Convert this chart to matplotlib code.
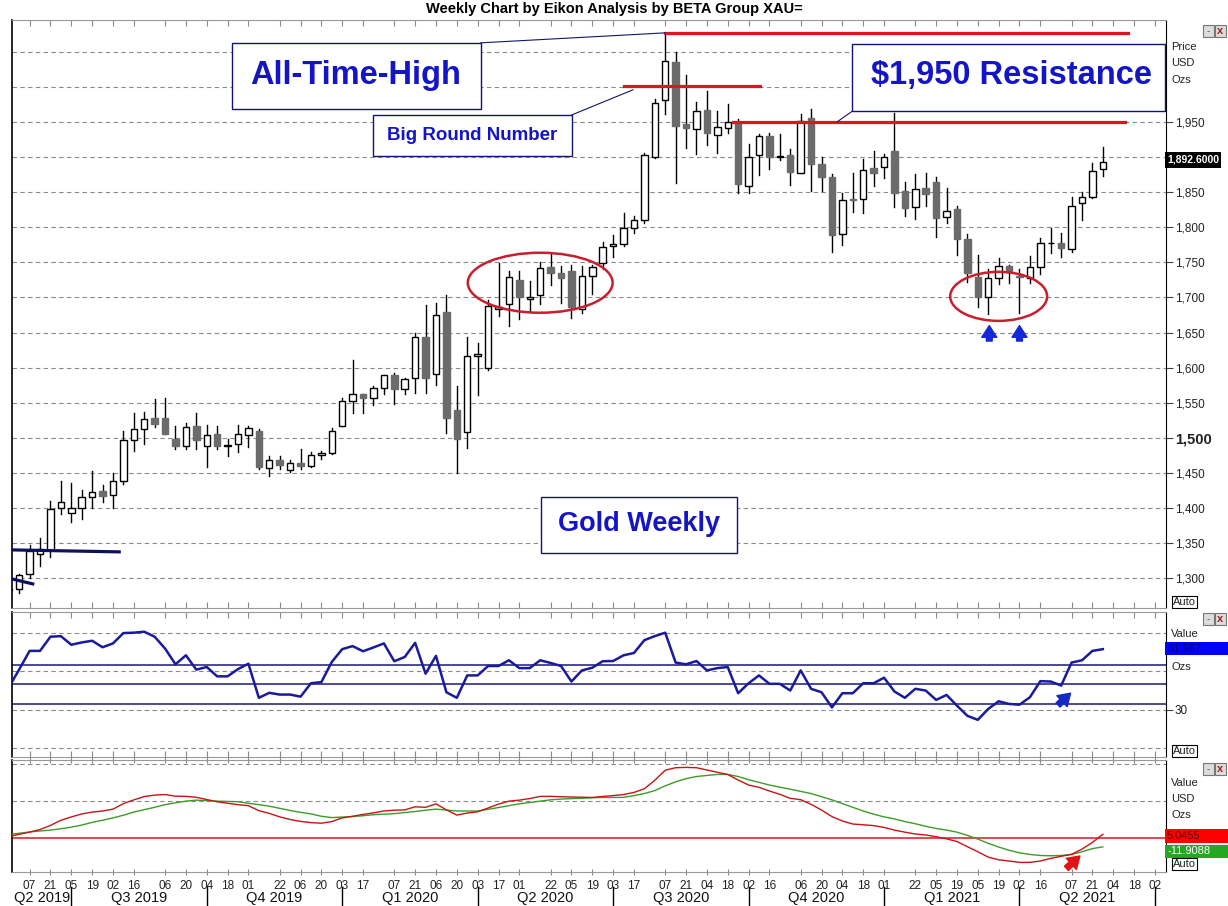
import matplotlib
matplotlib.use("Agg")
import matplotlib.pyplot as plt
from matplotlib.patches import Rectangle, Ellipse
from matplotlib.transforms import blended_transform_factory

plt.rcParams['font.family'] = ['Liberation Sans', 'DejaVu Sans']

W, H = 1228, 906

# weekly bars, week 0 = 07 Jun 2019
weeks = list(range(-2, 104))

opens = [1283, 1285, 1306, 1335, 1341, 1400, 1393, 1400, 1416, 1424,
         1419, 1439, 1497, 1513, 1528, 1529, 1499, 1488, 1517, 1488,
         1505, 1489, 1491, 1504, 1510, 1457, 1468, 1455, 1464, 1460,
         1476, 1478, 1517, 1552, 1562, 1557, 1571, 1589, 1570, 1585,
         1644, 1591, 1680, 1540, 1509, 1617, 1600, 1683, 1691, 1725,
         1698, 1703, 1743, 1735, 1738, 1684, 1731, 1749, 1773, 1776,
         1799, 1810, 1900, 1981, 2035, 1947, 1940, 1967, 1931, 1941,
         1948, 1859, 1903, 1930, 1900, 1903, 1877, 1955, 1890, 1872,
         1790, 1840, 1840, 1884, 1886, 1908, 1851, 1829, 1856, 1865,
         1815, 1826, 1783, 1729, 1701, 1728, 1745, 1731, 1728, 1744,
         1777, 1778, 1769, 1834, 1843, 1883]
highs = [1288, 1306, 1348, 1358, 1410, 1439, 1436, 1426, 1453, 1433,
         1450, 1510, 1535, 1537, 1555, 1557, 1517, 1522, 1535, 1519,
         1517, 1498, 1518, 1517, 1513, 1475, 1475, 1468, 1485, 1480,
         1481, 1514, 1557, 1611, 1563, 1574, 1590, 1592, 1585, 1649,
         1689, 1692, 1704, 1574, 1644, 1635, 1697, 1749, 1738, 1738,
         1724, 1751, 1764, 1745, 1746, 1745, 1746, 1779, 1789, 1820,
         1816, 1906, 1983, 2077, 2050, 2017, 1978, 1994, 1966, 1975,
         1954, 1919, 1933, 1934, 1933, 1912, 1961, 1968, 1900, 1876,
         1849, 1877, 1897, 1909, 1904, 1963, 1865, 1876, 1877, 1872,
         1856, 1830, 1790, 1761, 1740, 1756, 1746, 1740, 1759, 1785,
         1799, 1792, 1843, 1850, 1892, 1914]
lows = [1266, 1280, 1300, 1318, 1331, 1392, 1380, 1385, 1400, 1409,
        1400, 1434, 1481, 1492, 1516, 1506, 1485, 1484, 1485, 1459,
        1484, 1475, 1480, 1487, 1456, 1446, 1456, 1452, 1456, 1458,
        1470, 1477, 1517, 1535, 1536, 1547, 1563, 1548, 1563, 1564,
        1564, 1576, 1507, 1450, 1486, 1561, 1597, 1674, 1660, 1669,
        1681, 1691, 1718, 1692, 1671, 1678, 1705, 1741, 1757, 1773,
        1792, 1806, 1898, 1961, 1863, 1913, 1904, 1917, 1906, 1934,
        1849, 1849, 1875, 1883, 1896, 1860, 1877, 1852, 1852, 1765,
        1775, 1822, 1820, 1858, 1870, 1829, 1816, 1812, 1830, 1786,
        1806, 1761, 1722, 1687, 1677, 1719, 1721, 1678, 1721, 1734,
        1763, 1758, 1765, 1810, 1842, 1873]
closes = [1285, 1305, 1339, 1342, 1399, 1409, 1400, 1416, 1423, 1417,
          1439, 1497, 1513, 1527, 1520, 1506, 1488, 1516, 1497, 1504,
          1488, 1490, 1505, 1514, 1459, 1468, 1462, 1464, 1460, 1476,
          1478, 1510, 1552, 1562, 1557, 1571, 1589, 1570, 1584, 1644,
          1585, 1675, 1528, 1499, 1617, 1620, 1688, 1686, 1729, 1701,
          1701, 1742, 1735, 1728, 1686, 1731, 1743, 1772, 1776, 1799,
          1810, 1903, 1977, 2037, 1944, 1941, 1966, 1934, 1943, 1950,
          1862, 1900, 1930, 1900, 1902, 1879, 1951, 1890, 1872, 1789,
          1839, 1839, 1881, 1877, 1900, 1849, 1828, 1855, 1847, 1813,
          1823, 1783, 1735, 1701, 1728, 1745, 1736, 1729, 1744, 1778,
          1778, 1771, 1830, 1843, 1880, 1892.6]

rsi = [41.6, 51.0, 60.7, 60.7, 68.1, 68.4, 63.9, 65.1, 66.0, 62.6,
       64.6, 70.0, 70.2, 70.7, 68.1, 61.9, 53.7, 58.4, 50.9, 52.3,
       47.4, 47.4, 51.2, 54.0, 36.2, 38.8, 37.9, 37.9, 36.8, 43.8,
       44.4, 54.9, 61.6, 63.2, 60.5, 62.5, 64.6, 55.3, 57.5, 64.9,
       48.8, 58.1, 39.1, 36.2, 47.9, 47.9, 52.8, 52.8, 55.8, 51.7,
       51.7, 55.8, 54.4, 52.8, 44.7, 50.5, 51.9, 55.3, 55.4, 58.4,
       59.6, 66.3, 68.4, 70.2, 54.6, 53.7, 55.4, 50.5, 51.7, 52.3,
       38.6, 43.8, 47.9, 43.5, 43.5, 40.0, 50.5, 40.9, 39.1, 31.2,
       38.6, 38.6, 43.8, 43.8, 46.7, 39.5, 36.2, 40.9, 40.0, 35.1,
       37.7, 32.1, 26.8, 24.7, 30.4, 34.4, 33.0, 32.6, 36.5, 44.9,
       44.7, 42.6, 54.6, 55.8, 60.7, 61.6]

macd = [2.0, 5.0, 8.0, 11.5, 17.0, 24.0, 28.5, 32.5, 35.0, 36.5,
        39.0, 46.5, 51.5, 56.0, 58.0, 58.7, 56.5, 56.3, 55.0, 52.0,
        49.0, 47.0, 45.0, 43.7, 37.0, 33.3, 28.6, 25.0, 22.5, 20.8,
        20.0, 22.2, 27.2, 29.4, 31.9, 34.0, 36.5, 37.6, 38.0, 42.2,
        41.5, 46.2, 38.0, 31.0, 33.7, 35.4, 40.5, 45.8, 49.8, 51.2,
        53.3, 56.2, 56.3, 55.8, 55.4, 55.1, 54.8, 56.2, 57.3, 58.7,
        61.6, 66.6, 78.0, 91.6, 95.0, 95.4, 95.0, 91.9, 88.8, 85.9,
        78.3, 71.6, 68.5, 63.5, 59.0, 53.6, 51.8, 45.5, 37.8, 28.9,
        23.0, 18.9, 17.9, 16.8, 14.3, 10.7, 7.9, 5.4, 4.1, 1.8,
        -1.1, -4.7, -11.7, -18.5, -25.8, -29.4, -31.1, -32.9, -32.9, -31.1,
        -27.5, -24.7, -22.0, -15.0, -5.9, 5.05]
signal_line = [5.0, 6.4, 8.2, 9.5, 10.7, 12.5, 14.7, 17.5, 21.1, 24.0,
               27.2, 30.8, 35.1, 38.3, 41.5, 45.1, 47.6, 49.8, 51.2, 50.5,
               49.8, 49.4, 49.1, 46.9, 45.1, 43.0, 40.1, 37.2, 34.7, 32.6,
               29.4, 27.6, 28.3, 29.0, 30.1, 31.5, 32.2, 32.9, 34.4, 35.8,
               37.6, 39.0, 37.8, 36.5, 36.5, 36.5, 38.7, 41.2, 43.7, 46.2,
               48.0, 49.8, 51.6, 52.6, 53.3, 53.7, 54.4, 54.8, 54.8, 54.9,
               57.3, 60.1, 64.1, 70.5, 75.9, 80.2, 83.1, 84.5, 85.9, 85.9,
               83.1, 78.8, 75.2, 71.6, 68.7, 65.9, 63.0, 60.1, 55.8, 51.6,
               46.5, 41.5, 36.5, 32.2, 28.6, 25.8, 22.2, 19.3, 15.8, 12.9,
               10.7, 7.9, 3.6, -1.4, -7.2, -12.2, -16.5, -20.0, -22.2, -23.6,
               -24.0, -23.6, -22.2, -18.6, -14.3, -11.9]

tick_weeks = [0, 2, 4, 6, 8, 10, 13, 15, 17, 19, 21, 24, 26, 28, 30, 32, 35,
              37, 39, 41, 43, 45, 47, 50, 52, 54, 56, 58, 61, 63, 65, 67, 69,
              71, 74, 76, 78, 80, 82, 85, 87, 89, 91, 93, 95, 97, 100, 102,
              104, 106, 108]
tick_labels = ["07", "21", "05", "19", "02", "16", "06", "20", "04", "18",
               "01", "22", "06", "20", "03", "17", "07", "21", "06", "20",
               "03", "17", "01", "22", "05", "19", "03", "17", "07", "21",
               "04", "18", "02", "16", "06", "20", "04", "18", "01", "22",
               "05", "19", "05", "19", "02", "16", "07", "21", "04", "18", "02"]
quarter_breaks = [4, 17, 30, 43, 56, 69, 82, 95, 108]
quarter_names = ["Q2 2019", "Q3 2019", "Q4 2019", "Q1 2020", "Q2 2020",
                 "Q3 2020", "Q4 2020", "Q1 2021", "Q2 2021"]

price_ticks = [1300, 1350, 1400, 1450, 1500, 1550, 1600, 1650, 1700,
               1750, 1800, 1850, 1950]
price_grid = [1300, 1350, 1400, 1450, 1500, 1550, 1600, 1650, 1700,
              1750, 1800, 1850, 1900, 1950, 2000, 2050]

XMIN, XMAX = -1.69, 109.06
TXT_BLUE = '#1414c8'
NAVY = '#14146e'
RED = '#e0141e'
GRID = dict(color='#8a8a8a', lw=0.8, ls=(0, (4, 3)), zorder=0)


def fig_text(x, y, s, **kw):
    kw.setdefault('fontsize', 8)
    kw.setdefault('va', 'center')
    kw.setdefault('color', '#222222')
    fig.text(x / W, 1 - y / H, s, **kw)


def fig_box(x0, y0, x1, y1, color):
    fig.add_artist(Rectangle((x0 / W, 1 - y1 / H), (x1 - x0) / W, (y1 - y0) / H,
                             transform=fig.transFigure, facecolor=color,
                             edgecolor='none'))


def window_icons(y):
    for x0 in (1203, 1215):
        fig.add_artist(Rectangle((x0 / W, 1 - (y + 6) / H), 11 / W, 12 / H,
                                 transform=fig.transFigure, facecolor='#dcdcdc',
                                 edgecolor='#777777', lw=0.8))
    fig_text(1208.5, y, "-", ha='center', fontsize=7, color='#555555')
    fig_text(1220.5, y, "x", ha='center', fontsize=8, color='#a02020', fontweight='bold')


def auto_box(y):
    fig_text(1173, y, "Auto", fontsize=8,
             bbox=dict(boxstyle='square,pad=0.1', fc='white', ec='black', lw=0.8))


def style_panel(a):
    a.set_xlim(XMIN, XMAX)
    a.set_xticks(tick_weeks)
    a.tick_params(axis='x', direction='in', length=4, top=True, bottom=True,
                  color='#888888', labelbottom=False)
    a.spines['left'].set_color('black')
    a.spines['left'].set_linewidth(1.2)
    a.spines['right'].set_color('black')
    a.spines['top'].set_color('#999999')
    a.spines['bottom'].set_color('#999999')
    a.yaxis.tick_right()
    a.tick_params(axis='y', direction='out', length=5, width=0.8, pad=1.5,
                  labelsize=8.5, color='#444444', labelcolor='#222222')


fig = plt.figure(figsize=(12.28, 9.06), dpi=100)
ax = fig.add_axes([12 / W, 1 - 608 / H, 1154 / W, 588 / H])
ax_rsi = fig.add_axes([12 / W, 1 - 757 / H, 1154 / W, 145 / H])
ax_macd = fig.add_axes([12 / W, 1 - 872 / H, 1154 / W, 112 / H])

# ---- price panel ----
style_panel(ax)
ax.set_ylim(1258, 2095)
for lvl in price_grid:
    ax.axhline(lvl, **GRID)

for w, o, h, l, c in zip(weeks, opens, highs, lows, closes):
    ax.plot([w, w], [l, h], color='black', lw=1, zorder=2)
    if c >= o:
        ax.bar(w, max(c - o, 0.8), bottom=o, width=0.62, facecolor='white',
               edgecolor='black', lw=1, zorder=3)
    else:
        ax.bar(w, o - c, bottom=c, width=0.62, facecolor='#6b6b6b',
               edgecolor='#6b6b6b', lw=1, zorder=3)

ax.set_yticks(price_ticks)
ax.set_yticklabels([f"{p:,}" for p in price_ticks])
for lab in ax.get_yticklabels():
    if lab.get_text() == "1,500":
        lab.set_fontweight('bold')
        lab.set_fontsize(10.5)

# resistance lines
ax.plot([61.0, 105.4], [2076.7, 2076.7], color=RED, lw=2.3, zorder=4)
ax.plot([57.0, 70.1], [2001, 2001], color=RED, lw=2.3, zorder=4)
ax.plot([67.5, 105.1], [1950, 1950], color=RED, lw=2.3, zorder=4)

# connectors
ax.plot([43.3, 61.0], [2062.5, 2076.7], color=NAVY, lw=0.8, zorder=4)
ax.plot([52.05, 57.9], [1960, 1995.6], color=NAVY, lw=0.8, zorder=4)
ax.plot([79.0, 77.5], [1965.7, 1950], color=NAVY, lw=0.8, zorder=4)

# old trendlines on the left
ax.plot([-1.7, 8.6], [1340.7, 1337.9], color='#101060', lw=2.3, zorder=4)
ax.plot([-1.7, 0.3], [1299.4, 1292.3], color='#101060', lw=2.3, zorder=4)

# label boxes
boxes = [((19.4, 1968.5), 23.9, 94.0, (31.3, 2015.5), "All-Time-High", 23.5),
         ((33.0, 1901.6), 19.1, 58.4, (42.5, 1931.0), "Big Round Number", 13.5),
         ((78.9, 1965.7), 30.1, 95.3, (94.2, 2015.5), "$1,950 Resistance", 23.5),
         ((49.1, 1336.4), 18.8, 79.7, (58.5, 1377.0), "Gold Weekly", 19.5)]
for xy, bw, bh, txy, label, size in boxes:
    ax.add_patch(Rectangle(xy, bw, bh, facecolor='white', edgecolor=NAVY,
                           lw=1, zorder=5))
    ax.text(txy[0], txy[1], label, ha='center', va='center', color=TXT_BLUE,
            fontsize=size, fontweight='bold', zorder=6)

# consolidation circles
ax.add_patch(Ellipse((49.0, 1721), 13.9, 85.4, fill=False, edgecolor='#c81e2d',
                     lw=1.8, zorder=5))
ax.add_patch(Ellipse((93.0, 1701.6), 9.3, 69.8, fill=False, edgecolor='#c81e2d',
                     lw=1.8, zorder=5))

arrow_kw = dict(arrowstyle="simple,head_width=0.9,head_length=0.7,tail_width=0.35",
                mutation_scale=12, shrinkA=0, shrinkB=0)
for w in (92.1, 95.0):
    ax.annotate("", xy=(w, 1660), xytext=(w, 1638),
                arrowprops=dict(color='#1428d8', **arrow_kw))

# ---- RSI panel ----
style_panel(ax_rsi)
ax_rsi.set_ylim(5.3, 81.0)
for lvl in (70, 50, 30, 10):
    ax_rsi.axhline(lvl, **GRID)
for lvl in (53.2, 43.2, 33.2):
    ax_rsi.axhline(lvl, color='#1a1a7a', lw=1.1, zorder=1)
ax_rsi.plot(weeks, rsi, color='#1a1a9c', lw=1.8, zorder=3)
ax_rsi.set_yticks([30])
ax_rsi.set_yticklabels(["30"])
ax_rsi.annotate("", xy=(99.9, 38.6), xytext=(98.7, 32.5),
                arrowprops=dict(color='#1428c8', **arrow_kw))

# ---- MACD panel ----
style_panel(ax_macd)
ax_macd.set_ylim(-45.9, 105.4)
for lvl in (100, 50):
    ax_macd.axhline(lvl, **GRID)
ax_macd.axhline(0, color=RED, lw=1.1, zorder=1)
ax_macd.plot(weeks, signal_line, color='#3c9c28', lw=1.0, zorder=3)
ax_macd.plot(weeks, macd, color='#c81414', lw=1.0, zorder=3)
ax_macd.set_yticks([])
ax_macd.annotate("", xy=(100.8, -24.3), xytext=(99.5, -41.0),
                 arrowprops=dict(color='#e01414', **arrow_kw))

ax_macd.set_xticklabels(tick_labels)
ax_macd.tick_params(axis='x', labelbottom=True, labelsize=8.5, pad=3,
                    direction='inout', length=5, labelcolor='#222222')

trans = blended_transform_factory(ax_macd.transData, ax_macd.transAxes)
edges = [XMIN] + quarter_breaks
for i, name in enumerate(quarter_names):
    ax_macd.text((edges[i] + edges[i + 1]) / 2, -0.235, name, transform=trans,
                 ha='center', va='center', fontsize=10.5, color='#111111')
for b in quarter_breaks:
    ax_macd.plot([b, b], [-0.13, -0.31], transform=trans, clip_on=False,
                 color='black', lw=1)

# ---- title and right-hand labels ----
fig.text(0.5, 1 - 9 / H, "Weekly Chart by Eikon Analysis by BETA Group XAU=",
         ha='center', va='center', fontsize=10.5, fontweight='bold')

window_icons(31)
fig_text(1171, 47, "Price")
fig_text(1171, 63, "USD")
fig_text(1171, 80, "Ozs")
fig_box(1165, 152, 1221, 168, 'black')
fig_text(1167, 160, "1,892.6000", color='white', fontweight='bold', fontsize=7.5)
auto_box(602)

window_icons(619)
fig_text(1171, 634, "Value")
fig_box(1165, 642, 1228, 655, '#0000ff')
fig_text(1167, 648.5, "61.967", color='#000050', fontsize=8)
fig_text(1171, 667, "Ozs")
auto_box(751)

window_icons(769)
fig_text(1171, 783, "Value")
fig_text(1171, 799, "USD")
fig_text(1171, 815, "Ozs")
fig_box(1165, 829, 1228, 843, '#ff0000')
fig_text(1167, 836, "5.0455", color='#600000', fontsize=8)
fig_box(1165, 845, 1228, 858, '#22a822')
fig_text(1167, 851.5, "-11.9088", color='white', fontsize=8)
auto_box(864)

fig.savefig("out.png", dpi=100)
